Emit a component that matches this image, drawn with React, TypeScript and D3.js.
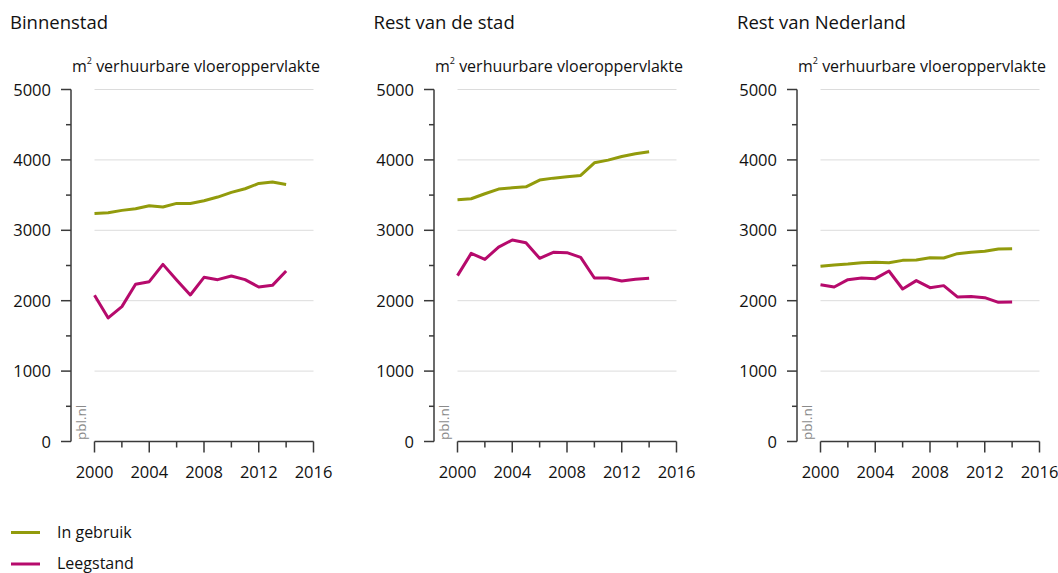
import React from "react";
import * as d3 from "d3";

const years = [2000, 2001, 2002, 2003, 2004, 2005, 2006, 2007, 2008, 2009, 2010, 2011, 2012, 2013, 2014];
const panelTitles = ["Binnenstad", "Rest van de stad", "Rest van Nederland"];
const seriesNames = ["In gebruik", "Leegstand"];

const binnenInGebruik = [3240, 3250, 3283, 3306, 3349, 3330, 3382, 3382, 3420, 3472, 3538, 3590, 3666, 3685, 3652];
const binnenLeegstand = [2077, 1755, 1916, 2233, 2270, 2516, 2294, 2081, 2332, 2299, 2351, 2299, 2195, 2218, 2422];
const restStadInGebruik = [3434, 3448, 3519, 3585, 3604, 3618, 3713, 3741, 3760, 3779, 3959, 3997, 4049, 4087, 4115];
const restStadLeegstand = [2356, 2672, 2587, 2762, 2862, 2824, 2602, 2687, 2682, 2616, 2322, 2322, 2280, 2304, 2318];
const nederlandInGebruik = [2488, 2507, 2521, 2540, 2545, 2540, 2573, 2578, 2611, 2606, 2668, 2687, 2701, 2734, 2739];
const nederlandLeegstand = [2228, 2195, 2299, 2322, 2313, 2422, 2166, 2285, 2185, 2214, 2053, 2058, 2043, 1977, 1982];

const yTicks = [0, 1000, 2000, 3000, 4000, 5000];
const yMinorTicks = [500, 1500, 2500, 3500, 4500];
const xTicks = [2000, 2004, 2008, 2012, 2016];
const xMinorTicks = [2002, 2006, 2010, 2014];

const colors = ["#929b0c", "#b60a6c"];
const panelData = [
  [binnenInGebruik, binnenLeegstand],
  [restStadInGebruik, restStadLeegstand],
  [nederlandInGebruik, nederlandLeegstand],
];

const FONT = "'Open Sans', 'DejaVu Sans', sans-serif";
const TEXT = "#111";

export default function App() {
  const y = d3.scaleLinear().domain([0, 5000]).range([441.5, 89.5]);
  return (
    <svg
      width={1058}
      height={573}
      style={{ position: "absolute", left: 0, top: 0, background: "#fff" }}
      fontFamily={FONT}
    >
      {panelTitles.map((title, i) => {
        const axisX = 71 + i * 363;
        const x = d3.scaleLinear().domain([2000, 2016]).range([axisX + 23.5, axisX + 242.5]);
        const line = d3
          .line<number>()
          .x((_, k) => x(years[k]))
          .y((v) => y(v));
        return (
          <g key={title}>
            <text x={10 + i * 363.5} y={29} fontSize={18.5} fill={TEXT}>
              {title}
            </text>
            <text x={axisX + 1} y={72} fontSize={16} fill={TEXT}>
              m
              <tspan fontSize={9} dy={-8}>
                2
              </tspan>
              <tspan dy={8}> verhuurbare vloeroppervlakte</tspan>
            </text>
            {yTicks
              .filter((t) => t > 0)
              .map((t) => (
                <line key={"g" + t} x1={x(2000)} x2={x(2016)} y1={y(t)} y2={y(t)} stroke="#dcdcdc" strokeWidth={1} />
              ))}
            <line x1={axisX} x2={axisX} y1={y(5000)} y2={y(0)} stroke="#3a3a3a" strokeWidth={1.5} />
            {yTicks.map((t) => (
              <g key={"yt" + t}>
                <line x1={axisX - 10} x2={axisX} y1={y(t)} y2={y(t)} stroke="#3a3a3a" strokeWidth={1.5} />
                <text x={axisX - 20} y={y(t) + 6} fontSize={16.5} textAnchor="end" fill={TEXT}>
                  {t}
                </text>
              </g>
            ))}
            {yMinorTicks.map((t) => (
              <line key={"ym" + t} x1={axisX - 5} x2={axisX} y1={y(t)} y2={y(t)} stroke="#3a3a3a" strokeWidth={1.5} />
            ))}
            <line x1={x(2000)} x2={x(2016)} y1={y(0)} y2={y(0)} stroke="#3a3a3a" strokeWidth={1.5} />
            {xTicks.map((t) => (
              <g key={"xt" + t}>
                <line x1={x(t)} x2={x(t)} y1={y(0)} y2={y(0) + 11} stroke="#3a3a3a" strokeWidth={1.5} />
                <text x={x(t)} y={478} fontSize={16.5} textAnchor="middle" fill={TEXT}>
                  {t}
                </text>
              </g>
            ))}
            {xMinorTicks.map((t) => (
              <line key={"xm" + t} x1={x(t)} x2={x(t)} y1={y(0)} y2={y(0) + 6} stroke="#3a3a3a" strokeWidth={1.5} />
            ))}
            <text
              transform={`translate(${axisX + 15},${440}) rotate(-90)`}
              fontSize={13.5}
              fill="#8a8a8a"
            >
              pbl.nl
            </text>
            {panelData[i].map((vals, s) => (
              <path
                key={"s" + s}
                d={line(vals) || ""}
                fill="none"
                stroke={colors[s]}
                strokeWidth={3}
                strokeLinejoin="round"
              />
            ))}
          </g>
        );
      })}
      {seriesNames.map((name, s) => (
        <g key={name}>
          <line x1={11} x2={40} y1={532.5 + s * 31.5} y2={532.5 + s * 31.5} stroke={colors[s]} strokeWidth={3} />
          <text x={57} y={538 + s * 30.5} fontSize={16} fill={TEXT}>
            {name}
          </text>
        </g>
      ))}
    </svg>
  );
}
